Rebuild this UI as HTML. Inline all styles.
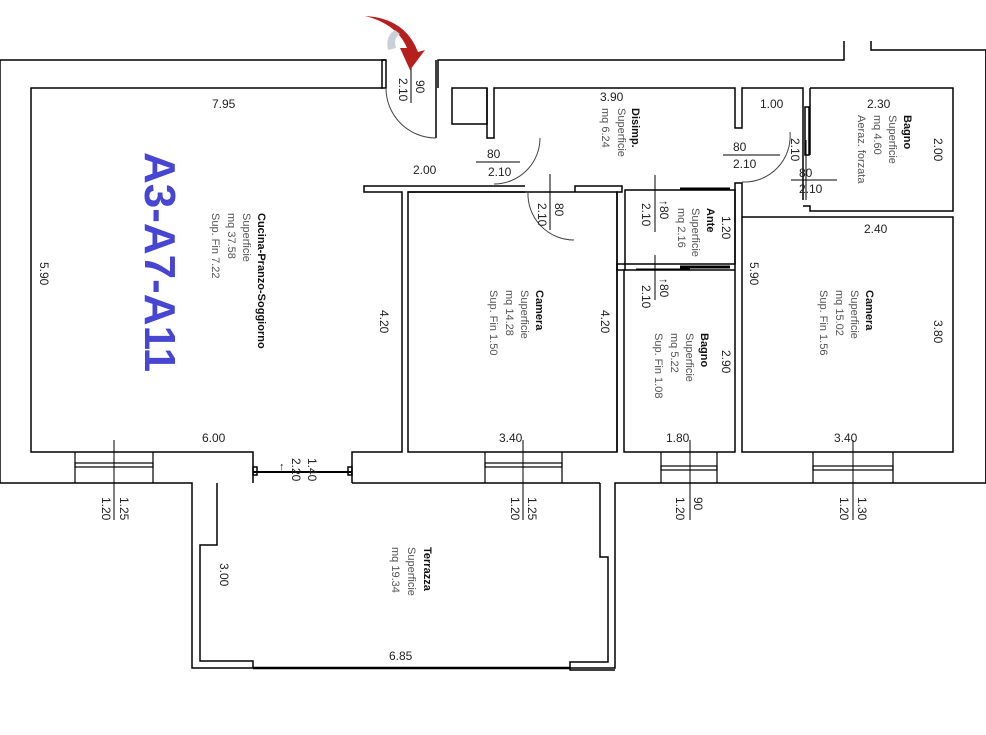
<!DOCTYPE html>
<html><head><meta charset="utf-8"><style>
html,body{margin:0;padding:0;background:#fff;}
svg{display:block;}
text{font-family:"Liberation Sans",sans-serif;}
.d{font-size:12px;fill:#222;}
.l{font-size:11px;fill:#555;}
.b{font-size:11px;fill:#111;font-weight:bold;}
</style></head><body>
<svg width="986" height="735" viewBox="0 0 986 735" xmlns="http://www.w3.org/2000/svg">
<g fill="none" stroke="#000" stroke-width="1.5">
<!-- outer -->
<polyline points="386,60 0,60 0,483 192,483 192,668 615,668 615,483 986,483 986,50 871,50 871,41"/>
<polyline points="438,88 438,60 844,60 844,41"/>
<rect x="382" y="60" width="4" height="28"/>
<line x1="436" y1="60" x2="436" y2="138"/>
<!-- cucina -->
<polyline points="383,88 31,88 31,452 253,452 253,483"/>
<polyline points="352,483 352,452 402,452 402,192 364,192 364,186 525,186"/>
<rect x="408" y="192" width="209" height="260"/>
<line x1="408" y1="192" x2="525" y2="192"/>
<!-- terrace inner -->
<polyline points="217,483 217,545 200,545 200,661 253,661 253,668"/>
<polyline points="600,483 600,557 608,557 608,662 570,662 570,670 615,670"/>
<line x1="253" y1="668" x2="570" y2="668" stroke-width="2.5"/>
<!-- bottom segments at 483 -->
<line x1="352" y1="483" x2="600" y2="483"/>
<line x1="253" y1="472" x2="352" y2="472" stroke-width="2"/>
<rect x="253" y="467" width="4" height="8"/>
<rect x="348" y="467" width="4" height="8"/>
<!-- top disimp area -->
<rect x="452" y="88" width="35" height="36"/>
<polyline points="487,88 487,138 494,138 494,88 735,88 735,128 742,128 742,88 803,88 803,200"/>
<polyline points="810,88 953,88 953,211 810,211 810,206 803,206"/>
<line x1="810" y1="88" x2="810" y2="155"/>
<rect x="805" y="107" width="4" height="48"/>
<polyline points="803,217 953,217 953,452 742,452 742,183 735,183 735,452 624,452 624,270 735,270"/>
<line x1="742" y1="217" x2="803" y2="217"/>
<polyline points="575,192 575,186 622,186 622,192 617,192 617,452"/>
<rect x="625" y="190" width="110" height="74"/>
<line x1="680" y1="189" x2="730" y2="189" stroke-width="3"/>
<line x1="680" y1="267" x2="730" y2="267" stroke-width="3"/>
<rect x="617" y="264" width="8" height="6"/>
<line x1="986" y1="483" x2="986" y2="50"/>
<!-- windows -->
<g stroke-width="1.2">
<polyline points="75,452 75,483"/><polyline points="153,452 153,483"/>
<rect x="75" y="463" width="78" height="4"/>
<polyline points="485,452 485,483"/><polyline points="562,452 562,483"/>
<rect x="485" y="463" width="77" height="4"/>
<polyline points="661,452 661,483"/><polyline points="717,452 717,483"/>
<rect x="661" y="466" width="56" height="4"/>
<polyline points="813,452 813,483"/><polyline points="893,452 893,483"/>
<rect x="813" y="466" width="80" height="4"/>
</g>
</g>
<!-- door arcs -->
<g fill="none" stroke="#444" stroke-width="1">
<path d="M386,88 A50,50 0 0 0 436,138"/>
<path d="M494,184 A46,46 0 0 0 540,138"/>
<path d="M528,192 A46,46 0 0 0 574,240"/>
<path d="M742,182 A46,46 0 0 0 790,132"/>
</g>
<!-- dim lines -->
<g stroke="#000" stroke-width="1">
<line x1="411" y1="55" x2="411" y2="103"/>
<line x1="476" y1="162" x2="520" y2="162"/>
<line x1="723" y1="155" x2="780" y2="155"/>
<line x1="791" y1="180" x2="837" y2="180"/>
<line x1="806" y1="140" x2="806" y2="200"/>
<line x1="550" y1="174" x2="550" y2="230"/>
<line x1="636" y1="190" x2="690" y2="190"/>
<line x1="655" y1="175" x2="655" y2="232"/>
<line x1="636" y1="269" x2="690" y2="269"/>
<line x1="655" y1="255" x2="655" y2="300"/>
<line x1="114" y1="440" x2="114" y2="520"/>
<line x1="523" y1="440" x2="523" y2="520"/>
<line x1="690" y1="440" x2="690" y2="520"/>
<line x1="853" y1="440" x2="853" y2="520"/>
</g>
<!-- red arrow -->
<path d="M365,16 Q405,18 418,52 L425,50 L410,70 L400,48 L407,48 Q397,24 365,16 Z" fill="#b5201f"/>
<path d="M395,30 Q385,36 388,50 L396,48 Q393,38 400,34 Z" fill="#c8d0d8"/>
<!-- horizontal labels -->
<text class="d" x="212" y="108">7.95</text>
<text class="d" x="413" y="174">2.00</text>
<text class="d" x="487" y="158">80</text>
<text class="d" x="488" y="176">2.10</text>
<text class="d" x="600" y="101">3.90</text>
<text class="d" x="760" y="108">1.00</text>
<text class="d" x="733" y="151">80</text>
<text class="d" x="733" y="168">2.10</text>
<text class="d" x="867" y="108">2.30</text>
<text class="d" x="799" y="177">80</text>
<text class="d" x="799" y="193">2.10</text>
<text class="d" x="864" y="233">2.40</text>
<text class="d" x="202" y="442">6.00</text>
<text class="d" x="499" y="442">3.40</text>
<text class="d" x="666" y="442">1.80</text>
<text class="d" x="834" y="442">3.40</text>
<text class="d" x="389" y="660">6.85</text>
<text class="d" x="279" y="470" style="font-size:11px">↑</text>
<!-- rotated labels -->
<g class="d">
<text transform="translate(416,80) rotate(90)">90</text>
<text transform="translate(399,78) rotate(90)">2.10</text>
<text transform="translate(40,262) rotate(90)">5.90</text>
<text transform="translate(380,310) rotate(90)">4.20</text>
<text transform="translate(601,310) rotate(90)">4.20</text>
<text transform="translate(555,203) rotate(90)">80</text>
<text transform="translate(538,203) rotate(90)">2.10</text>
<text transform="translate(660,200) rotate(90)">↑80</text>
<text transform="translate(642,203) rotate(90)">2.10</text>
<text transform="translate(660,278) rotate(90)">↑80</text>
<text transform="translate(642,285) rotate(90)">2.10</text>
<text transform="translate(722,216) rotate(90)">1.20</text>
<text transform="translate(722,350) rotate(90)">2.90</text>
<text transform="translate(750,262) rotate(90)">5.90</text>
<text transform="translate(791,138) rotate(90)">2.10</text>
<text transform="translate(934,138) rotate(90)">2.00</text>
<text transform="translate(934,320) rotate(90)">3.80</text>
<text transform="translate(308,458) rotate(90)">1.40</text>
<text transform="translate(292,458) rotate(90)">2.20</text>
<text transform="translate(120,497) rotate(90)">1.25</text>
<text transform="translate(102,497) rotate(90)">1.20</text>
<text transform="translate(528,497) rotate(90)">1.25</text>
<text transform="translate(511,497) rotate(90)">1.20</text>
<text transform="translate(694,497) rotate(90)">90</text>
<text transform="translate(676,497) rotate(90)">1.20</text>
<text transform="translate(858,497) rotate(90)">1.30</text>
<text transform="translate(840,497) rotate(90)">1.20</text>
<text transform="translate(220,563) rotate(90)">3.00</text>
</g>
<!-- room labels -->
<text class="b" transform="translate(258,213) rotate(90)">Cucina-Pranzo-Soggiorno</text>
<text class="l" transform="translate(243,213) rotate(90)">Superficie</text>
<text class="l" transform="translate(228,213) rotate(90)">mq 37.58</text>
<text class="l" transform="translate(212,213) rotate(90)">Sup. Fin 7.22</text>
<text class="b" transform="translate(632,108) rotate(90)">Disimp.</text>
<text class="l" transform="translate(618,108) rotate(90)">Superficie</text>
<text class="l" transform="translate(602,108) rotate(90)">mq 6.24</text>
<text class="b" transform="translate(904,115) rotate(90)">Bagno</text>
<text class="l" transform="translate(889,115) rotate(90)">Superficie</text>
<text class="l" transform="translate(874,115) rotate(90)">mq 4.60</text>
<text class="l" transform="translate(858,115) rotate(90)">Aeraz. forzata</text>
<text class="b" transform="translate(536,290) rotate(90)">Camera</text>
<text class="l" transform="translate(521,290) rotate(90)">Superficie</text>
<text class="l" transform="translate(506,290) rotate(90)">mq 14.28</text>
<text class="l" transform="translate(490,290) rotate(90)">Sup. Fin 1.50</text>
<text class="b" transform="translate(707,208) rotate(90)">Ante</text>
<text class="l" transform="translate(692,208) rotate(90)">Superficie</text>
<text class="l" transform="translate(678,208) rotate(90)">mq 2.16</text>
<text class="b" transform="translate(701,333) rotate(90)">Bagno</text>
<text class="l" transform="translate(686,333) rotate(90)">Superficie</text>
<text class="l" transform="translate(671,333) rotate(90)">mq 5.22</text>
<text class="l" transform="translate(655,333) rotate(90)">Sup. Fin 1.08</text>
<text class="b" transform="translate(866,290) rotate(90)">Camera</text>
<text class="l" transform="translate(851,290) rotate(90)">Superficie</text>
<text class="l" transform="translate(836,290) rotate(90)">mq 15.02</text>
<text class="l" transform="translate(820,290) rotate(90)">Sup. Fin 1.56</text>
<text class="b" transform="translate(424,547) rotate(90)">Terrazza</text>
<text class="l" transform="translate(408,547) rotate(90)">Superficie</text>
<text class="l" transform="translate(392,547) rotate(90)">mq 19.34</text>
<!-- big label -->
<text transform="translate(145,152) rotate(90)" style="font-size:44px;font-weight:bold;fill:#4646d2;font-family:'Liberation Sans',sans-serif;">A3-A7-A11</text>
</svg>
</body></html>
